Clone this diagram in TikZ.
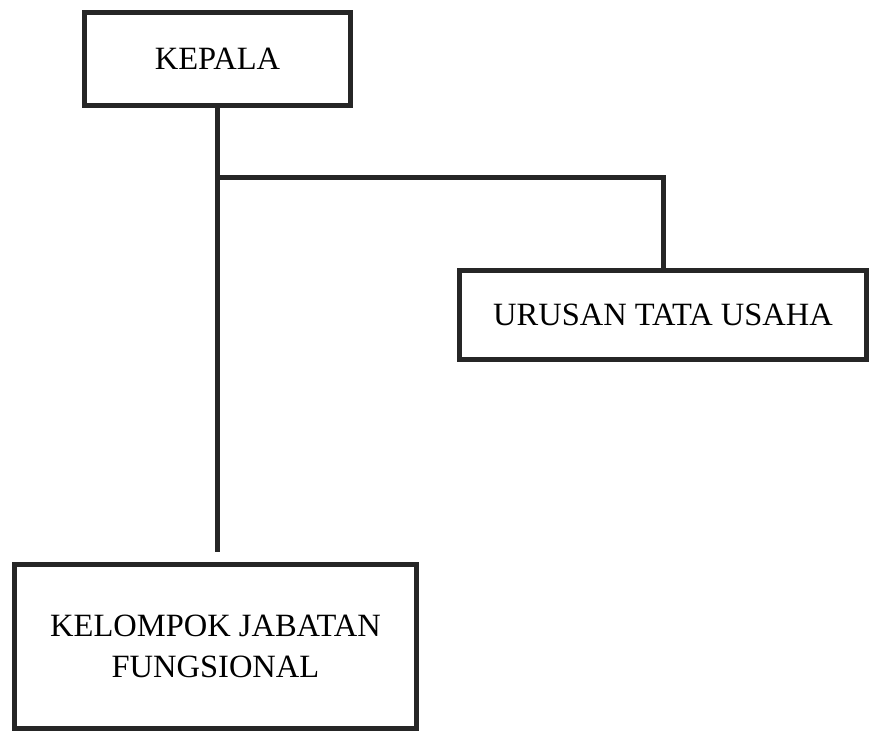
\documentclass[tikz,border=0pt]{standalone}
\usepackage{fontspec}
\setmainfont{Liberation Serif}
\begin{document}
\begin{tikzpicture}[x=1pt,y=-1pt,
  box/.style={draw=black!85,line width=5pt,rectangle,inner sep=0pt,align=center,
    font=\fontsize{32.5}{41}\selectfont,text=black},
  conn/.style={draw=black!85,line width=5pt,line join=miter}]
\useasboundingbox (0,0) rectangle (871,733);
\node[box,minimum width=266pt,minimum height=93pt] (kepala) at (217.5,59) {KEPALA};
\node[box,minimum width=407pt,minimum height=89pt] (urusan) at (663,315) {URUSAN TATA USAHA};
\node[box,minimum width=402pt,minimum height=164pt] (kelompok) at (215.5,646.5) {KELOMPOK JABATAN\\FUNGSIONAL};
\coordinate (j) at (217,178);
\coordinate (e) at (217,552);
\draw[conn] (kepala.south -| j) -- (e);
\draw[conn] (j) -| (urusan.north);
\end{tikzpicture}
\end{document}
